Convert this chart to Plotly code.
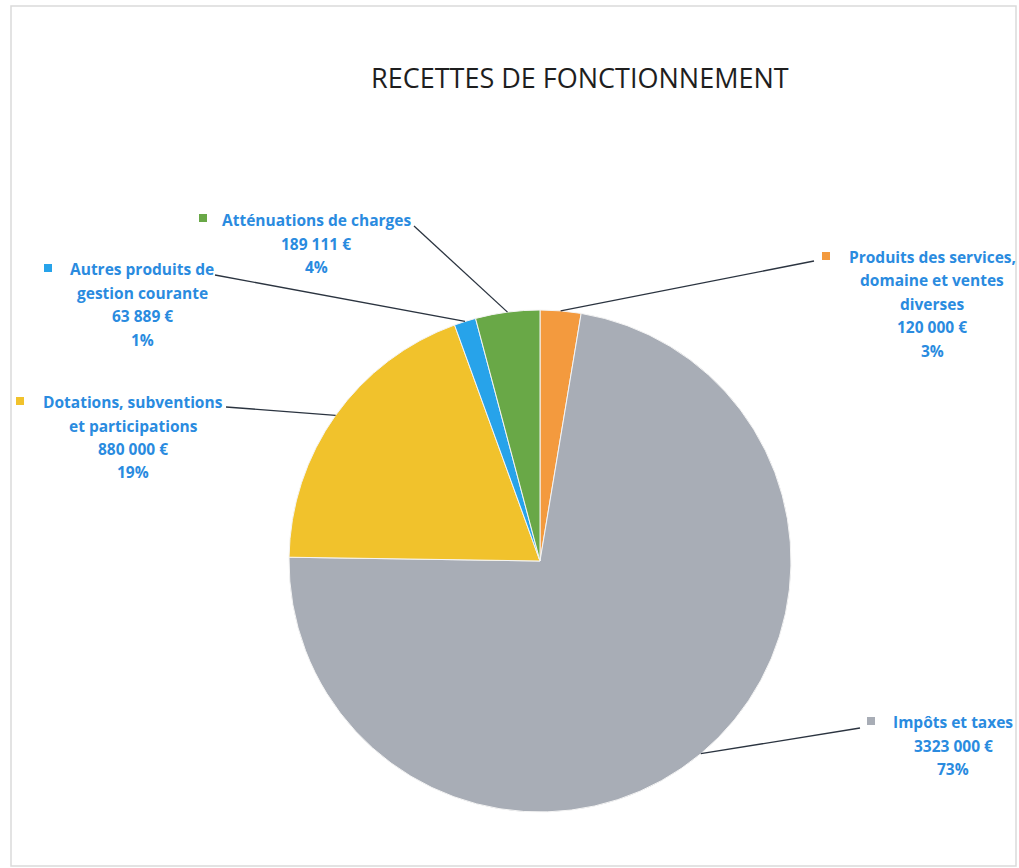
import math
import plotly.graph_objects as go

W, H = 1019, 868

labels = ["Produits des services, domaine et ventes diverses", "Impôts et taxes",
          "Dotations, subventions et participations", "Autres produits de gestion courante",
          "Atténuations de charges"]
values = [120000, 3323000, 880000, 63889, 189111]
colors = ["#F39A3E", "#A8ADB6", "#F1C22C", "#27A3EA", "#69A847"]
label_lines = [
    ["Produits des services,", "domaine et ventes", "diverses", "120 000 €", "3%"],
    ["Impôts et taxes", "3323 000 €", "73%"],
    ["Dotations, subventions", "et participations", "880 000 €", "19%"],
    ["Autres produits de", "gestion courante", "63 889 €", "1%"],
    ["Atténuations de charges", "189 111 €", "4%"],
]

# layout (pixels)
cx, cy, R = 540, 561, 251
# label block: center x, first line y, line-end point (leader start), legend square pos
blocks = [
    dict(x=932, y=257, end=(814, 261), sq=(826, 256)),
    dict(x=953, y=722, end=(860, 728), sq=(871, 721)),
    dict(x=133, y=402, end=(226, 407), sq=(20, 401)),
    dict(x=142, y=269, end=(215, 275), sq=(48, 268)),
    dict(x=316, y=220, end=(414, 226), sq=(203, 218)),
]
LS = 23.5
TXT = "#2A8BDF"
FONT = "Open Sans, Lato, sans-serif"

def px(x):
    return x / W

def py(y):
    return 1 - y / H

fig = go.Figure(go.Pie(
    labels=labels, values=values, sort=False, direction="clockwise", rotation=0,
    marker=dict(colors=colors, line=dict(color="#F4F4F4", width=1)),
    textinfo="none", hoverinfo="label+value+percent", showlegend=False,
    domain=dict(x=[px(cx - R), px(cx + R)], y=[py(cy + R), py(cy - R)]),
))

annotations = []
shapes = []
total = sum(values)
cum = 0
for i, v in enumerate(values):
    mid = (cum + v / 2) / total
    cum += v
    ang = 2 * math.pi * mid
    ex, ey = cx + R * math.sin(ang), cy - R * math.cos(ang)
    b = blocks[i]
    shapes.append(dict(type="line", xref="paper", yref="paper",
                       x0=px(ex), y0=py(ey), x1=px(b["end"][0]), y1=py(b["end"][1]),
                       line=dict(color="#2B3440", width=1.3)))
    sx, sy = b["sq"]
    shapes.append(dict(type="rect", xref="paper", yref="paper",
                       x0=px(sx - 4), x1=px(sx + 4), y0=py(sy - 4), y1=py(sy + 4),
                       fillcolor=colors[i], line=dict(width=0)))
    for j, t in enumerate(label_lines[i]):
        annotations.append(dict(text="<b>%s</b>" % t, x=px(b["x"]), y=py(b["y"] + j * LS),
                                xref="paper", yref="paper", xanchor="center", yanchor="middle",
                                showarrow=False,
                                font=dict(family=FONT, size=15.5, color=TXT)))

annotations.append(dict(text="RECETTES DE FONCTIONNEMENT", x=px(580), y=py(77),
                        xref="paper", yref="paper", xanchor="center", yanchor="middle",
                        showarrow=False,
                        font=dict(family=FONT, size=27, color="#1E1E1E", weight=500)))

# page frame
shapes.append(dict(type="rect", xref="paper", yref="paper", x0=px(11), x1=px(1016),
                   y0=py(866), y1=py(6), line=dict(color="#DADADA", width=1.5)))

fig.update_layout(width=W, height=H, margin=dict(l=0, r=0, t=0, b=0),
                  paper_bgcolor="white", plot_bgcolor="white",
                  annotations=annotations, shapes=shapes)
fig.write_html("out.html")
